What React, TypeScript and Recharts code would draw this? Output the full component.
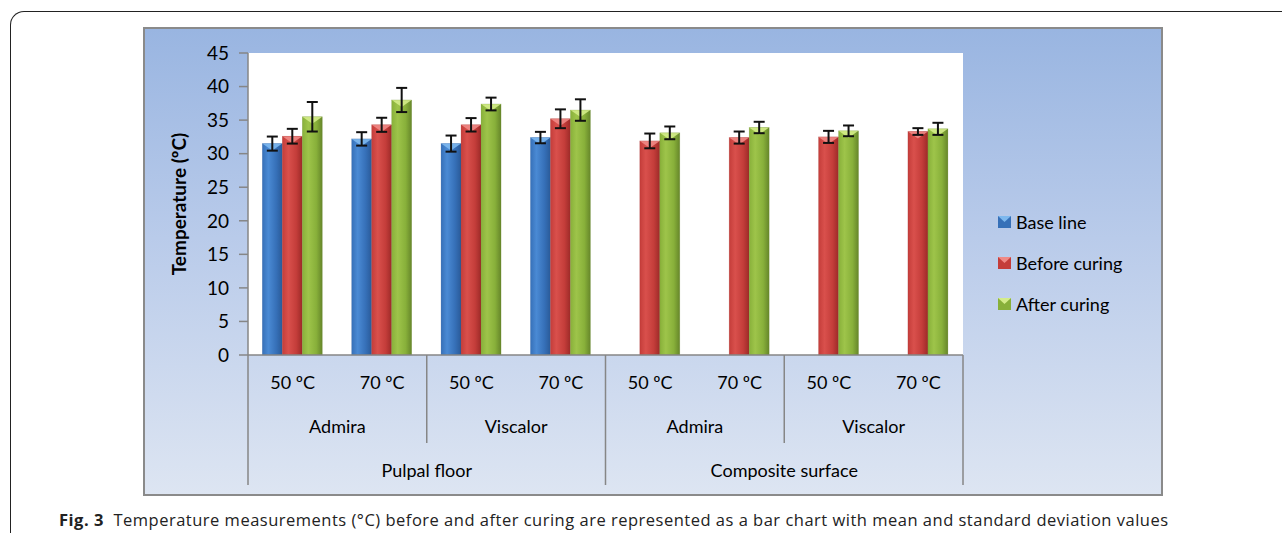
import React from "react";
import { BarChart, Bar, XAxis, YAxis, CartesianGrid, ErrorBar, Legend } from "recharts";

const temps = ["50 ºC", "70 ºC", "50 ºC", "70 ºC", "50 ºC", "70 ºC", "50 ºC", "70 ºC"];
const materials = ["Admira", "Admira", "Viscalor", "Viscalor", "Admira", "Admira", "Viscalor", "Viscalor"];
const sites = ["Pulpal floor", "Pulpal floor", "Pulpal floor", "Pulpal floor", "Composite surface", "Composite surface", "Composite surface", "Composite surface"];
const baseLine = [31.5, 32.2, 31.5, 32.4, null, null, null, null];
const baseLineSd = [1.05, 1.0, 1.2, 0.85, null, null, null, null];
const beforeCuring = [32.6, 34.3, 34.3, 35.2, 31.9, 32.4, 32.5, 33.3];
const beforeCuringSd = [1.1, 1.05, 1.0, 1.4, 1.1, 0.9, 0.9, 0.5];
const afterCuring = [35.5, 38.0, 37.4, 36.5, 33.1, 33.9, 33.4, 33.7];
const afterCuringSd = [2.2, 1.8, 0.95, 1.6, 0.95, 0.85, 0.8, 0.9];
const yTicks = [0, 5, 10, 15, 20, 25, 30, 35, 40, 45];

const data = temps.map((t, i) => ({
  key: `${sites[i]}|${materials[i]}|${t}|${i}`,
  temp: t,
  material: materials[i],
  site: sites[i],
  base: baseLine[i],
  baseSd: baseLineSd[i],
  before: beforeCuring[i],
  beforeSd: beforeCuringSd[i],
  after: afterCuring[i],
  afterSd: afterCuringSd[i],
}));

const FONT = "Lato, 'Open Sans', sans-serif";
const AXIS = "#868686";

const series = [
  { key: "base", sd: "baseSd", name: "Base line", id: "gBlue", top: "#7db8ee", c1: "#4a8ad4", c2: "#3670b8", c3: "#2a5a98" },
  { key: "before", sd: "beforeSd", name: "Before curing", id: "gRed", top: "#f08a86", c1: "#d9504c", c2: "#c43d3a", c3: "#9c2a28" },
  { key: "after", sd: "afterSd", name: "After curing", id: "gGreen", top: "#d4ec8a", c1: "#9ec44a", c2: "#88b03a", c3: "#66862a" },
];

const makeShape = (s: any) => (props: any) => {
  const { x, y, width, height } = props;
  if (height == null || !(height > 0) || isNaN(y)) return null;
  const tri = Math.min(7, height);
  return (
    <g>
      <rect x={x} y={y} width={width} height={height} fill={`url(#${s.id})`} />
      <polygon points={`${x},${y} ${x + width},${y} ${x + width / 2},${y + tri}`} fill={s.top} opacity={0.9} />
      <rect x={x} y={y} width={width} height={height} fill="none" stroke={s.c3} strokeOpacity={0.35} strokeWidth={0.6} />
    </g>
  );
};

const XTick = (props: any) => {
  const { x, y, payload, index, width, visibleTicksCount } = props;
  const off = payload && payload.offset ? payload.offset : width / (visibleTicksCount || 8) / 2;
  const i = index;
  const els: any[] = [];
  els.push(
    <text key="t" x={x} y={y + 34} textAnchor="middle" fontSize={18} fontFamily={FONT} fill="#000">
      {temps[i]}
    </text>
  );
  if (i % 2 === 0) {
    const full = i % 4 === 0;
    els.push(<line key="l" x1={x - off} x2={x - off} y1={y} y2={y + (full ? 130 : 88)} stroke={AXIS} strokeWidth={1.5} />);
    els.push(
      <text key="m" x={x + off} y={y + 78} textAnchor="middle" fontSize={18} fontFamily={FONT} fill="#000">
        {materials[i]}
      </text>
    );
  }
  if (i % 4 === 0) {
    els.push(
      <text key="s" x={x + 3 * off} y={y + 122} textAnchor="middle" fontSize={18} fontFamily={FONT} fill="#000">
        {sites[i]}
      </text>
    );
  }
  if (i === temps.length - 1) {
    els.push(<line key="r" x1={x + off} x2={x + off} y1={y} y2={y + 130} stroke={AXIS} strokeWidth={1.5} />);
  }
  return <g>{els}</g>;
};

const LegendContent = () => (
  <div style={{ fontFamily: FONT, fontSize: 18, color: "#000" }}>
    {series.map((s) => (
      <div key={s.key} style={{ display: "flex", alignItems: "center", height: 41 }}>
        <svg width={13} height={12} style={{ marginRight: 5 }}>
          <rect x={0} y={0} width={13} height={12} fill={s.c2} />
          <polygon points="0,0 13,0 6.5,6" fill={s.top} />
        </svg>
        <span>{s.name}</span>
      </div>
    ))}
  </div>
);

const YLabel = (props: any) => {
  const vb = props.viewBox || { x: 0, y: 0, width: 105, height: 302 };
  const cx = vb.x + 35;
  const cy = vb.y + vb.height / 2;
  return (
    <text x={cx} y={cy} transform={`rotate(-90 ${cx} ${cy})`} textAnchor="middle" dominantBaseline="central" fontSize={19} fontWeight="bold" fontFamily={FONT} fill="#000">
      Temperature (ºC)
    </text>
  );
};

export default function App() {
  return (
    <div style={{ position: "absolute", left: 0, top: 0, width: 1282, height: 533, background: "#fff", overflow: "hidden" }}>
      <div
        style={{
          position: "absolute",
          left: 10,
          top: 11,
          width: 1300,
          height: 560,
          borderLeft: "1.5px solid #222",
          borderTop: "1.5px solid #222",
          borderTopLeftRadius: 14,
        }}
      />
      <div
        style={{
          position: "absolute",
          left: 143,
          top: 27,
          width: 1016,
          height: 465,
          border: "2px solid #8a8a8a",
          background: "linear-gradient(to bottom, #99b5e1 0%, #b9cbea 45%, #dde5f2 100%)",
        }}
      />
      <div style={{ position: "absolute", left: 143, top: 27 }}>
        <BarChart
          width={1020}
          height={469}
          data={data}
          margin={{ top: 26, right: 200, bottom: 0, left: 0 }}
          barCategoryGap="16%"
          barGap={0}
        >
          <defs>
            {series.map((s) => (
              <linearGradient key={s.id} id={s.id} x1="0" y1="0" x2="1" y2="0">
                <stop offset="0%" stopColor={s.c2} />
                <stop offset="30%" stopColor={s.c1} />
                <stop offset="70%" stopColor={s.c2} />
                <stop offset="100%" stopColor={s.c3} />
              </linearGradient>
            ))}
          </defs>
          <CartesianGrid fill="#ffffff" stroke="none" horizontal={false} vertical={false} />
          <XAxis
            dataKey="key"
            height={141}
            interval={0}
            tickLine={false}
            tickSize={0}
            tickMargin={0}
            axisLine={{ stroke: AXIS, strokeWidth: 1.5 }}
            tick={<XTick />}
          />
          <YAxis
            domain={[0, 45]}
            ticks={yTicks}
            width={105}
            interval={0}
            tickSize={9}
            tickMargin={10}
            axisLine={{ stroke: AXIS, strokeWidth: 1.5 }}
            tickLine={{ stroke: AXIS, strokeWidth: 1.5 }}
            tick={{ fill: "#000", fontSize: 19, fontFamily: FONT }}
            label={<YLabel />}
          />
          <Legend
            layout="horizontal"
            verticalAlign="middle"
            align="center"
            content={<LegendContent />}
            wrapperStyle={{ position: "absolute", left: 855, top: 174, width: 165 }}
          />
          {series.map((s) => (
            <Bar key={s.key} dataKey={s.key} name={s.name} fill={s.c2} isAnimationActive={false} shape={makeShape(s)}>
              <ErrorBar dataKey={s.sd} width={5.5} strokeWidth={2} stroke="#111" direction="y" />
            </Bar>
          ))}
        </BarChart>
      </div>
      <div
        style={{
          position: "absolute",
          left: 59,
          top: 509,
          fontFamily: "'Open Sans', sans-serif",
          fontSize: 16.5,
          letterSpacing: 0.5,
          color: "#222",
          whiteSpace: "nowrap",
          lineHeight: "22px",
        }}
      >
        <b>Fig. 3</b>&nbsp; Temperature measurements (°C) before and after curing are represented as a bar chart with mean and standard deviation values
      </div>
    </div>
  );
}
